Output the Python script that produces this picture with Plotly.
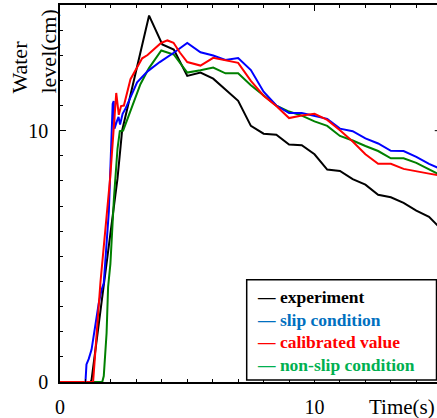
import plotly.graph_objects as go

# ---- data ----
t_exp = [0, 1.2, 1.24, 2.26, 2.44, 3.5, 4.02, 4.47, 5.0, 5.52, 6.02, 6.5, 7.0, 7.5, 8.0, 8.5, 9.0,
         9.5, 10.0, 10.5, 11.0, 11.5, 12.0, 12.5, 13.0, 13.5, 14.0, 14.5, 15.0]
h_exp = [0, 0, 0.08, 8.1, 10.0, 14.58, 13.43, 13.23, 12.18, 12.31, 12.07, 11.65, 11.19, 10.19, 9.88,
         9.84, 9.45, 9.42, 9.06, 8.45, 8.40, 8.07, 7.85, 7.45, 7.35, 7.13, 6.82, 6.57, 6.06]

t_slip = [0, 1.0, 1.04, 1.13, 1.24, 1.33, 1.42, 1.52, 1.63, 1.72, 1.92, 2.07, 2.11, 2.14, 2.24, 2.30,
          2.36, 2.46, 2.57, 3.03, 3.44, 3.92, 4.47, 5.0, 5.52, 6.02, 6.5, 7.0, 7.5, 8.0, 8.5, 9.0,
          9.5, 10.0, 10.5, 11.0, 11.5, 12.0, 12.5, 13.0, 13.5, 14.0, 14.5, 15.0]
h_slip = [0, 0, 0.70, 0.92, 1.29, 1.94, 2.47, 3.12, 3.65, 3.94, 6.80, 11.06, 11.18, 10.08, 10.39, 10.55,
          10.24, 10.67, 10.87, 11.92, 12.36, 12.73, 13.10, 13.49, 13.12, 12.99, 12.81, 12.89, 12.41, 11.55,
          11.0, 10.7, 10.7, 10.6, 10.47, 10.08, 9.98, 9.69, 9.49, 9.20, 9.19, 8.96, 8.68, 8.45]

t_cal = [0, 1.30, 1.59, 1.97, 2.11, 2.21, 2.31, 2.40, 2.51, 2.77, 3.23, 3.44, 3.97, 4.22, 4.46, 4.71,
         5.0, 5.52, 6.02, 6.5, 7.0, 7.5, 8.0, 8.5, 9.0, 9.5, 10.0, 10.5, 11.0, 11.5, 12.0, 12.5, 13.0,
         13.5, 14.0, 14.5, 15.0]
h_cal = [0, 0, 3.98, 8.11, 10.08, 11.5, 10.63, 10.98, 11.0, 12.05, 12.88, 13.01, 13.49, 13.59, 13.5,
         13.11, 12.73, 12.59, 12.9, 12.81, 12.7, 11.98, 11.39, 10.98, 10.5, 10.6, 10.67, 10.43, 10.02,
         9.57, 9.06, 8.68, 8.68, 8.48, 8.37, 8.29, 8.2]

t_ns = [0, 1.66, 1.72, 1.83, 1.89, 1.98, 2.12, 2.26, 2.35, 2.48, 2.70, 3.16, 3.49, 3.98, 4.47, 5.0,
        5.52, 6.02, 6.5, 7.0, 7.5, 8.0, 8.5, 9.0, 9.5, 10.0, 10.5, 11.0, 11.5, 12.0, 12.5, 13.0, 13.5,
        14.0, 14.5, 15.0]
h_ns = [0, 0, 0.24, 1.94, 3.78, 4.70, 7.32, 9.29, 9.98, 10.0, 10.6, 11.85, 12.48, 13.19, 13.03, 12.31,
        12.4, 12.51, 12.28, 12.28, 11.81, 11.39, 11.0, 10.76, 10.6, 10.37, 10.19, 9.79, 9.61, 9.39,
        9.19, 8.9, 8.9, 8.72, 8.46, 8.2]

series_names = ["experiment", "slip condition", "calibrated value", "non-slip condition"]
line_colors = ["#000000", "#0000FF", "#FF0000", "#008000"]
legend_colors = ["#000000", "#0070C0", "#FF0000", "#00B050"]
x_tick_vals = [0, 10]
y_tick_vals = [0, 10]

FONT = "Liberation Serif"

fig = go.Figure()
for tx, hy, col, nm in [(t_exp, h_exp, line_colors[0], series_names[0]),
                        (t_ns, h_ns, line_colors[3], series_names[3]),
                        (t_slip, h_slip, line_colors[1], series_names[1]),
                        (t_cal, h_cal, line_colors[2], series_names[2])]:
    fig.add_trace(go.Scatter(x=tx, y=hy, mode="lines", name=nm,
                             line=dict(color=col, width=2), showlegend=False))

axis_common = dict(showline=True, linecolor="black", linewidth=1.5, showgrid=False, zeroline=False,
                   ticks="inside", ticklen=6, tickwidth=1, tickcolor="black",
                   tickfont=dict(family=FONT, size=20, color="black"),
                   minor=dict(dtick=1, ticks="inside", ticklen=3, tickcolor="black", tickwidth=1))

fig.update_xaxes(range=[0, 377 / 25.45], tickvals=x_tick_vals, mirror="allticks",
                 ticklabelstandoff=6, **axis_common)
fig.update_yaxes(range=[0, 15], tickvals=y_tick_vals, mirror=False,
                 ticklabelstandoff=6, **axis_common)

annotations = [
    dict(text="Water<br>level(cm)", textangle=-90, xref="paper", yref="paper",
         x=(34 - 60) / 377, y=(386 - 52) / 381, xanchor="center", yanchor="middle",
         align="left", showarrow=False, font=dict(family=FONT, size=22, color="black")),
    dict(text="Time(s)", xref="paper", yref="paper", x=1.0, y=(386 - 411) / 381,
         xanchor="right", yanchor="middle", showarrow=False,
         font=dict(family=FONT, size=21, color="black")),
]
row_y = [300, 323.3, 346, 369.3]
for nm, col, ry in zip(series_names, legend_colors, row_y):
    annotations.append(dict(
        text=f"— {nm}",
        xref="paper", yref="paper", x=(255 - 60) / 377, y=(386 - ry) / 381,
        xanchor="left", yanchor="middle", showarrow=False,
        font=dict(family=FONT, size=17.5, color=col, weight="bold")))

shapes = [
    dict(type="rect", xref="paper", yref="paper", x0=(246.7 - 60) / 377, x1=(436.5 - 60) / 377,
         y0=(386 - 384) / 381, y1=(386 - 282.7) / 381, line=dict(color="black", width=1.5),
         fillcolor="white", layer="above"),
    dict(type="line", xref="paper", yref="y", x0=0.994, x1=1.0, y0=10, y1=10,
         line=dict(color="black", width=1)),
]

fig.update_layout(width=437, height=418, margin=dict(l=60, r=0, t=5, b=32),
                  plot_bgcolor="white", paper_bgcolor="white",
                  annotations=annotations, shapes=shapes, showlegend=False)

fig.write_html("out.html")
